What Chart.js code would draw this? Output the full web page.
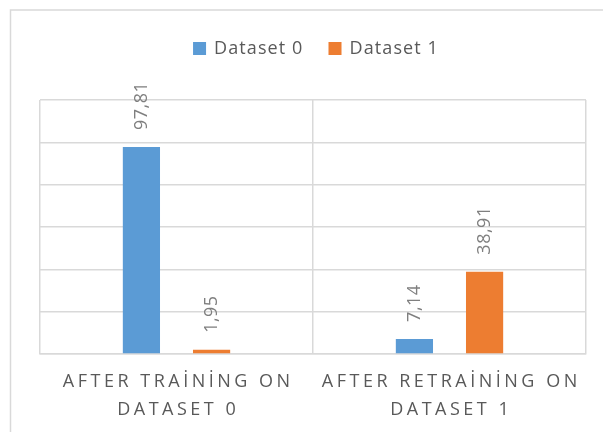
<!DOCTYPE html>
<html>
<head>
<meta charset="utf-8">
<script src="https://cdn.jsdelivr.net/npm/chart.js@4.4.0/dist/chart.umd.min.js"></script>
<style>
  html, body { margin: 0; padding: 0; background: #ffffff; }
  #c { display: block; }
</style>
</head>
<body>
<canvas id="c" width="603" height="432"></canvas>
<script>
// ---- data ----
const categories = [
  ["AFTER TRAİNİNG ON", "DATASET 0"],
  ["AFTER RETRAİNİNG ON", "DATASET 1"]
];
const seriesNames = ["Dataset 0", "Dataset 1"];
const dataset0 = [97.81, 7.14];
const dataset1 = [1.95, 38.91];
const yMin = 0;
const yMax = 120;
const yStep = 20;

// ---- style ----
const colors = ["#5B9BD5", "#ED7D31"];
const gridColor = "#d9d9d9";
const textColor = "#595959";
const labelColor = "#7f7f7f";
const FONT = "'Open Sans', 'Noto Sans', sans-serif";

function fmt(v) { return v.toFixed(2).replace('.', ','); }

const decorPlugin = {
  id: 'decor',
  beforeDraw(chart) {
    const ctx = chart.ctx;
    ctx.save();
    ctx.fillStyle = '#ffffff';
    ctx.fillRect(0, 0, chart.width, chart.height);
    ctx.strokeStyle = gridColor;
    ctx.lineWidth = 1.5;
    ctx.strokeRect(10.5, 10, chart.width, chart.height);
    ctx.restore();
  },
  afterDatasetsDraw(chart) {
    const ctx = chart.ctx;
    ctx.save();
    ctx.font = "18px " + FONT;
    ctx.fillStyle = labelColor;
    ctx.textAlign = 'left';
    ctx.textBaseline = 'middle';
    ctx.letterSpacing = '0.5px';
    chart.data.datasets.forEach((ds, i) => {
      const meta = chart.getDatasetMeta(i);
      meta.data.forEach((bar, j) => {
        ctx.save();
        ctx.translate(bar.x, bar.y - 17);
        ctx.rotate(-Math.PI / 2);
        ctx.fillText(fmt(ds.data[j]), 0, 0);
        ctx.restore();
      });
    });
    ctx.restore();
  },
  afterDraw(chart) {
    const ctx = chart.ctx;
    const xs = chart.scales.x;
    // category labels
    ctx.save();
    ctx.font = "18px " + FONT;
    ctx.fillStyle = textColor;
    ctx.textAlign = 'center';
    ctx.textBaseline = 'middle';
    ctx.letterSpacing = '3.5px';
    categories.forEach((lines, i) => {
      const x = xs.getPixelForValue(i) + 1.75;
      lines.forEach((ln, k) => {
        ctx.fillText(ln, x, chart.chartArea.bottom + 28 + k * 28);
      });
    });
    ctx.restore();

    // legend
    ctx.save();
    ctx.font = "18px " + FONT;
    ctx.letterSpacing = '1.1px';
    ctx.textBaseline = 'middle';
    ctx.textAlign = 'left';
    const box = 13, gapBoxText = 8, gapItems = 25;
    const items = chart.data.datasets.map(d => ({ label: d.label, color: d.backgroundColor, w: ctx.measureText(d.label).width }));
    let total = 0;
    items.forEach((it, i) => { total += box + gapBoxText + it.w + (i < items.length - 1 ? gapItems : 0); });
    let x = 316 - total / 2;
    const cy = 48.5;
    items.forEach(it => {
      ctx.fillStyle = it.color;
      ctx.fillRect(x, cy - box / 2, box, box);
      x += box + gapBoxText;
      ctx.fillStyle = textColor;
      ctx.fillText(it.label, x, cy);
      x += it.w + gapItems;
    });
    ctx.restore();
  }
};

new Chart(document.getElementById('c'), {
  type: 'bar',
  data: {
    labels: categories,
    datasets: [
      { label: seriesNames[0], data: dataset0, backgroundColor: colors[0], categoryPercentage: 0.514, barPercentage: 0.53 },
      { label: seriesNames[1], data: dataset1, backgroundColor: colors[1], categoryPercentage: 0.514, barPercentage: 0.53 }
    ]
  },
  options: {
    responsive: false,
    animation: false,
    devicePixelRatio: 1,
    layout: { padding: { left: 40, right: 17, top: 100, bottom: 78 } },
    plugins: {
      legend: { display: false },
      tooltip: { enabled: false },
      title: { display: false }
    },
    scales: {
      x: {
        display: true,
        grid: { display: true, offset: true, color: gridColor, lineWidth: 1.5, drawTicks: false },
        border: { display: true, color: gridColor, width: 1.5 },
        ticks: { display: false }
      },
      y: {
        display: true,
        min: yMin,
        max: yMax,
        ticks: { display: false, stepSize: yStep },
        grid: { display: true, color: gridColor, lineWidth: 1.5, drawTicks: false },
        border: { display: false }
      }
    }
  },
  plugins: [decorPlugin]
});
</script>
</body>
</html>
